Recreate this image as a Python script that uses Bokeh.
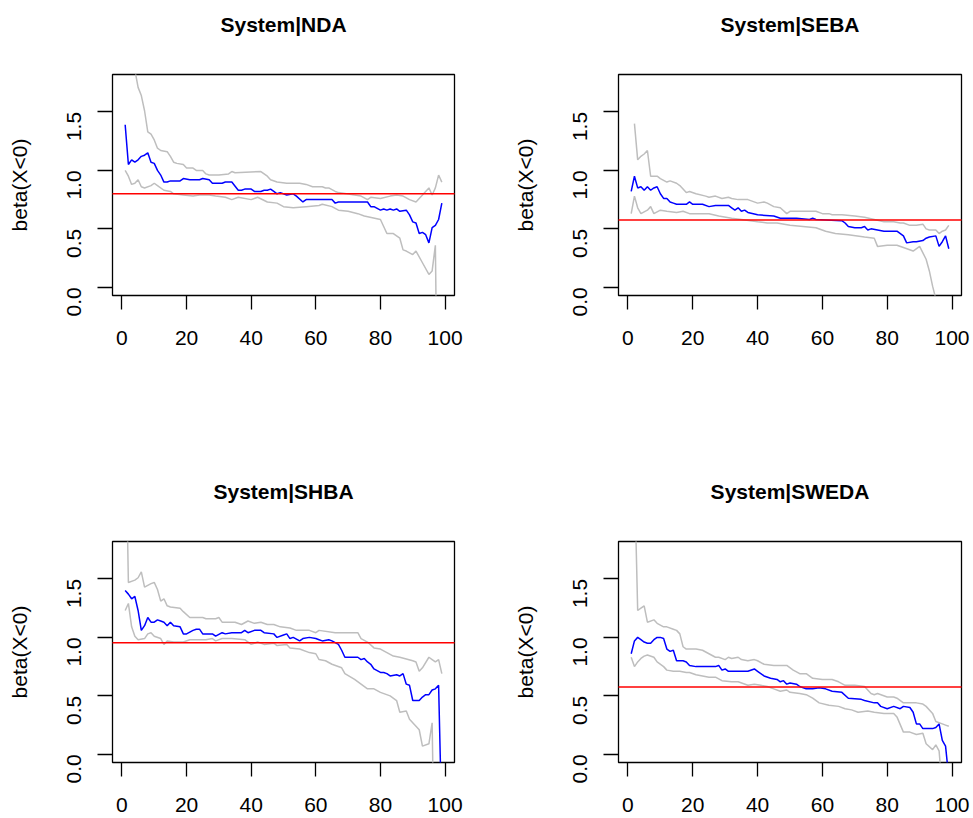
import math
from bokeh.plotting import figure
from bokeh.layouts import column, row
from bokeh.models import Range1d, FixedTicker, PrintfTickFormatter, Title
from bokeh.embed import file_html
from bokeh.resources import INLINE

titles = ["System|NDA", "System|SEBA", "System|SHBA", "System|SWEDA"]
y_label = "beta(X<0)"
x_ticks = [0, 20, 40, 60, 80, 100]
y_ticks = [0.0, 0.5, 1.0, 1.5]
ref_levels = [0.80, 0.575, 0.955, 0.575]

# ---- System|NDA ----
nda_mid_x = [1, 2, 3, 4, 5, 6, 7, 8, 9, 10, 11, 12, 13, 14, 15, 18, 19, 21, 24, 25, 27, 28, 31, 32, 34, 36, 37, 38, 40, 41, 43, 44, 45, 46, 47, 48, 49, 51, 53, 54, 56, 57, 65, 66, 67, 76, 77, 78, 80, 81, 82, 83, 84, 85, 86, 88, 89, 90, 91, 92, 93, 94, 95, 96, 97, 98, 99]
nda_mid_y = [1.39, 1.05, 1.09, 1.07, 1.09, 1.12, 1.13, 1.15, 1.07, 1.06, 1.00, 0.96, 0.90, 0.90, 0.91, 0.91, 0.93, 0.92, 0.92, 0.93, 0.92, 0.89, 0.89, 0.90, 0.90, 0.83, 0.83, 0.84, 0.84, 0.82, 0.82, 0.83, 0.83, 0.84, 0.82, 0.80, 0.81, 0.79, 0.80, 0.78, 0.73, 0.75, 0.75, 0.72, 0.73, 0.73, 0.69, 0.69, 0.66, 0.67, 0.66, 0.67, 0.66, 0.67, 0.65, 0.66, 0.62, 0.56, 0.55, 0.46, 0.47, 0.45, 0.38, 0.51, 0.53, 0.58, 0.72]
nda_up_x = [3, 4, 5, 6, 7, 8, 9, 10, 11, 12, 14, 15, 16, 17, 19, 20, 22, 23, 25, 26, 27, 30, 33, 34, 35, 43, 45, 46, 48, 51, 55, 57, 59, 62, 63, 64, 66, 67, 72, 74, 76, 77, 80, 83, 85, 87, 89, 91, 93, 95, 96, 97, 98, 99]
nda_up_y = [3.0, 1.86, 1.71, 1.64, 1.51, 1.33, 1.31, 1.26, 1.19, 1.17, 1.16, 1.12, 1.07, 1.06, 1.05, 1.02, 1.02, 1.00, 1.00, 0.97, 0.96, 0.96, 0.97, 0.99, 0.98, 0.99, 0.95, 0.92, 0.90, 0.89, 0.89, 0.88, 0.86, 0.86, 0.85, 0.85, 0.82, 0.81, 0.79, 0.78, 0.75, 0.77, 0.76, 0.78, 0.79, 0.78, 0.75, 0.73, 0.79, 0.85, 0.79, 0.85, 0.96, 0.90]
nda_lo_x = [1, 2, 3, 4, 5, 6, 7, 9, 10, 11, 13, 15, 16, 19, 22, 24, 27, 29, 32, 34, 36, 40, 42, 45, 48, 50, 53, 57, 61, 62, 65, 67, 70, 73, 75, 80, 81, 82, 84, 86, 87, 88, 90, 91, 93, 95, 96, 97, 98, 99]
nda_lo_y = [1.00, 0.95, 0.88, 0.89, 0.92, 0.86, 0.85, 0.87, 0.89, 0.87, 0.83, 0.82, 0.80, 0.79, 0.78, 0.79, 0.79, 0.78, 0.77, 0.75, 0.77, 0.75, 0.77, 0.73, 0.72, 0.69, 0.68, 0.69, 0.70, 0.71, 0.69, 0.66, 0.65, 0.63, 0.61, 0.58, 0.52, 0.46, 0.46, 0.42, 0.32, 0.31, 0.28, 0.31, 0.21, 0.11, 0.14, 0.36, -2.0, -1.5]

# ---- System|SEBA ----
seba_mid_x = [1, 2, 3, 4, 5, 6, 7, 8, 9, 10, 11, 12, 13, 14, 15, 18, 19, 20, 23, 25, 27, 31, 32, 33, 34, 35, 36, 37, 40, 45, 47, 52, 56, 57, 58, 66, 67, 68, 70, 72, 73, 74, 75, 77, 79, 83, 85, 86, 88, 89, 91, 92, 93, 95, 96, 97, 98, 99]
seba_mid_y = [0.82, 0.95, 0.85, 0.86, 0.83, 0.86, 0.83, 0.85, 0.86, 0.80, 0.76, 0.76, 0.73, 0.72, 0.71, 0.71, 0.73, 0.71, 0.71, 0.69, 0.70, 0.70, 0.68, 0.66, 0.68, 0.65, 0.66, 0.64, 0.62, 0.61, 0.59, 0.59, 0.58, 0.59, 0.58, 0.57, 0.55, 0.52, 0.51, 0.51, 0.52, 0.49, 0.50, 0.49, 0.48, 0.48, 0.44, 0.38, 0.39, 0.39, 0.40, 0.42, 0.43, 0.44, 0.35, 0.39, 0.44, 0.33]
seba_up_x = [2, 3, 4, 5, 6, 7, 9, 10, 12, 13, 15, 16, 18, 19, 21, 24, 25, 27, 29, 31, 32, 34, 37, 40, 42, 43, 45, 47, 49, 50, 54, 58, 60, 62, 63, 66, 70, 73, 76, 79, 82, 84, 85, 87, 89, 91, 92, 93, 95, 96, 97, 98, 99]
seba_up_y = [1.40, 1.09, 1.12, 1.14, 1.17, 0.95, 0.95, 0.93, 0.90, 0.91, 0.89, 0.87, 0.81, 0.82, 0.80, 0.78, 0.77, 0.78, 0.76, 0.77, 0.76, 0.75, 0.75, 0.72, 0.73, 0.72, 0.69, 0.68, 0.63, 0.65, 0.65, 0.65, 0.63, 0.63, 0.62, 0.62, 0.61, 0.60, 0.58, 0.56, 0.56, 0.55, 0.55, 0.53, 0.53, 0.54, 0.50, 0.49, 0.49, 0.46, 0.48, 0.49, 0.53]
seba_lo_x = [1, 2, 3, 4, 6, 7, 8, 10, 12, 15, 17, 19, 23, 25, 28, 32, 35, 40, 43, 46, 50, 54, 58, 61, 64, 68, 73, 76, 77, 80, 83, 85, 88, 90, 92, 93, 94, 95, 96, 97, 98, 99]
seba_lo_y = [0.63, 0.78, 0.68, 0.63, 0.66, 0.69, 0.63, 0.66, 0.65, 0.64, 0.65, 0.63, 0.63, 0.63, 0.61, 0.59, 0.58, 0.56, 0.55, 0.55, 0.53, 0.52, 0.51, 0.48, 0.46, 0.45, 0.43, 0.42, 0.35, 0.36, 0.36, 0.34, 0.31, 0.35, 0.24, 0.14, 0.01, -0.10, -0.40, -0.75, -1.10, -1.50]

# ---- System|SHBA ----
shba_mid_x = [1, 2, 3, 4, 5, 6, 7, 8, 9, 10, 11, 12, 13, 14, 15, 16, 18, 19, 20, 22, 23, 24, 25, 28, 29, 31, 32, 34, 37, 38, 39, 41, 43, 44, 47, 48, 50, 51, 52, 53, 55, 56, 58, 60, 61, 62, 64, 65, 67, 68, 69, 72, 73, 74, 75, 76, 77, 78, 80, 81, 82, 83, 85, 86, 87, 88, 89, 90, 92, 93, 94, 95, 96, 97, 98, 99]
shba_mid_y = [1.40, 1.37, 1.33, 1.35, 1.23, 1.06, 1.10, 1.17, 1.13, 1.13, 1.15, 1.14, 1.13, 1.10, 1.13, 1.10, 1.09, 1.03, 1.03, 1.06, 1.07, 1.07, 1.03, 1.03, 1.01, 1.04, 1.03, 1.04, 1.04, 1.06, 1.04, 1.06, 1.06, 1.04, 1.03, 1.00, 1.02, 1.03, 0.99, 1.00, 0.97, 0.99, 1.00, 0.99, 0.98, 0.97, 0.98, 0.97, 0.94, 0.89, 0.83, 0.83, 0.83, 0.81, 0.82, 0.79, 0.77, 0.73, 0.70, 0.70, 0.69, 0.67, 0.68, 0.67, 0.69, 0.60, 0.59, 0.46, 0.46, 0.49, 0.51, 0.51, 0.55, 0.56, 0.59, -0.60]
shba_up_x = [1, 2, 4, 5, 6, 7, 9, 10, 11, 12, 13, 14, 15, 18, 19, 21, 25, 26, 29, 30, 31, 35, 37, 39, 41, 43, 45, 47, 49, 52, 54, 58, 60, 61, 66, 70, 73, 74, 76, 78, 80, 82, 84, 86, 90, 91, 92, 93, 95, 96, 97, 98, 99]
shba_up_y = [3.0, 1.47, 1.49, 1.51, 1.56, 1.43, 1.46, 1.47, 1.41, 1.31, 1.33, 1.27, 1.26, 1.25, 1.22, 1.17, 1.17, 1.16, 1.16, 1.17, 1.13, 1.13, 1.11, 1.14, 1.12, 1.13, 1.11, 1.11, 1.09, 1.08, 1.06, 1.06, 1.04, 1.06, 1.04, 1.04, 1.04, 0.99, 0.96, 0.91, 0.90, 0.87, 0.84, 0.83, 0.80, 0.79, 0.71, 0.74, 0.83, 0.81, 0.79, 0.81, 0.69]
shba_lo_x = [1, 2, 3, 4, 5, 7, 8, 9, 10, 12, 13, 14, 16, 19, 21, 26, 28, 29, 31, 34, 38, 40, 42, 44, 47, 48, 51, 52, 55, 58, 60, 61, 63, 65, 68, 69, 72, 74, 76, 78, 80, 83, 85, 86, 88, 89, 91, 92, 93, 95, 96, 97, 98, 99]
shba_lo_y = [1.23, 1.29, 1.09, 1.01, 0.98, 0.99, 1.03, 1.04, 1.01, 0.99, 0.94, 0.97, 0.96, 0.96, 0.98, 0.98, 0.99, 0.97, 0.99, 0.99, 0.98, 0.94, 0.96, 0.94, 0.95, 0.93, 0.94, 0.91, 0.90, 0.87, 0.86, 0.81, 0.80, 0.77, 0.74, 0.69, 0.64, 0.60, 0.56, 0.56, 0.53, 0.50, 0.46, 0.36, 0.37, 0.30, 0.24, 0.21, 0.07, 0.09, 0.27, -1.5, -2.0, -1.5]

# ---- System|SWEDA ----
sweda_mid_x = [1, 2, 3, 4, 5, 6, 7, 8, 9, 10, 11, 12, 13, 14, 15, 17, 18, 19, 21, 27, 28, 29, 30, 31, 35, 37, 39, 40, 42, 44, 46, 47, 48, 49, 50, 52, 53, 55, 57, 59, 61, 63, 66, 68, 72, 73, 76, 77, 78, 80, 82, 84, 85, 87, 88, 89, 90, 91, 94, 95, 96, 97, 98, 99]
sweda_mid_y = [0.86, 0.97, 1.00, 0.98, 0.96, 0.95, 0.95, 0.98, 1.00, 1.00, 0.99, 0.90, 0.88, 0.89, 0.80, 0.80, 0.79, 0.76, 0.75, 0.75, 0.76, 0.72, 0.73, 0.71, 0.71, 0.71, 0.73, 0.71, 0.67, 0.65, 0.64, 0.62, 0.63, 0.60, 0.61, 0.60, 0.58, 0.56, 0.56, 0.57, 0.56, 0.54, 0.53, 0.48, 0.47, 0.46, 0.44, 0.44, 0.41, 0.39, 0.41, 0.39, 0.41, 0.40, 0.36, 0.26, 0.26, 0.22, 0.22, 0.23, 0.26, 0.12, 0.07, -0.20]
sweda_up_x = [1, 2, 3, 4, 5, 6, 8, 9, 11, 12, 14, 15, 16, 17, 18, 21, 23, 25, 27, 28, 30, 31, 32, 34, 35, 37, 39, 40, 42, 45, 47, 49, 51, 53, 55, 57, 60, 63, 65, 67, 70, 73, 75, 76, 77, 80, 82, 83, 85, 87, 89, 91, 92, 94, 95, 97, 98, 99]
sweda_up_y = [3.5, 2.4, 1.23, 1.25, 1.27, 1.13, 1.15, 1.12, 1.09, 1.09, 1.07, 1.06, 1.03, 0.92, 0.90, 0.90, 0.89, 0.86, 0.83, 0.83, 0.81, 0.83, 0.82, 0.83, 0.81, 0.80, 0.81, 0.80, 0.77, 0.76, 0.76, 0.76, 0.72, 0.69, 0.69, 0.65, 0.64, 0.64, 0.62, 0.59, 0.59, 0.58, 0.52, 0.51, 0.52, 0.49, 0.49, 0.48, 0.44, 0.44, 0.44, 0.43, 0.41, 0.35, 0.28, 0.26, 0.25, 0.24]
sweda_lo_x = [1, 2, 3, 4, 5, 6, 8, 9, 11, 12, 14, 16, 18, 19, 21, 23, 25, 27, 29, 32, 34, 37, 39, 41, 43, 45, 47, 49, 50, 53, 55, 57, 59, 62, 65, 67, 69, 71, 74, 76, 79, 82, 83, 85, 87, 89, 91, 92, 94, 95, 96, 97, 98, 99]
sweda_lo_y = [0.83, 0.75, 0.79, 0.82, 0.84, 0.85, 0.83, 0.79, 0.75, 0.72, 0.71, 0.71, 0.70, 0.70, 0.68, 0.67, 0.66, 0.66, 0.63, 0.62, 0.62, 0.59, 0.60, 0.59, 0.58, 0.56, 0.54, 0.55, 0.53, 0.52, 0.51, 0.48, 0.44, 0.42, 0.41, 0.39, 0.38, 0.36, 0.37, 0.36, 0.35, 0.35, 0.32, 0.19, 0.19, 0.17, 0.18, 0.09, 0.04, 0.08, 0.03, -0.30, -0.60, -0.50]

panels = [
    (nda_mid_x, nda_mid_y, nda_up_x, nda_up_y, nda_lo_x, nda_lo_y),
    (seba_mid_x, seba_mid_y, seba_up_x, seba_up_y, seba_lo_x, seba_lo_y),
    (shba_mid_x, shba_mid_y, shba_up_x, shba_up_y, shba_lo_x, shba_lo_y),
    (sweda_mid_x, sweda_mid_y, sweda_up_x, sweda_up_y, sweda_lo_x, sweda_lo_y),
]

FONT = "Liberation Sans"
# (left, right, top, bottom) borders and frame width for each panel
geom = [
    (112, 32, 74, 114, 342),
    (132, 12, 74, 114, 343),
    (112, 32, 132, 56, 342),
    (132, 12, 132, 56, 343),
]


def make_panel(i):
    mx, my, ux, uy, lx, ly = panels[i]
    bl, br, bt, bb, fw = geom[i]
    p = figure(title=None, frame_width=fw, frame_height=221,
               min_border_left=bl, min_border_right=br,
               min_border_top=bt, min_border_bottom=bb,
               x_range=Range1d(-2.92, 102.92), y_range=Range1d(-0.07, 1.82),
               output_backend="svg", toolbar_location=None, tools="")
    # empty spacer title next to the frame, then the real title above it
    p.add_layout(Title(text=" ", text_font=FONT, text_font_size="21px",
                       standoff=14), "above")
    p.add_layout(Title(text=titles[i], align="center", text_font=FONT,
                       text_font_size="21px", text_font_style="bold",
                       text_color="black", standoff=0), "above")
    p.outline_line_color = "black"
    p.outline_line_width = 1.3
    p.xgrid.visible = False
    p.ygrid.visible = False
    p.background_fill_color = "white"
    p.border_fill_color = "white"

    p.line(ux, uy, line_color="#BEBEBE", line_width=1.5)
    p.line(lx, ly, line_color="#BEBEBE", line_width=1.5)
    p.line(mx, my, line_color="#0000FF", line_width=1.5)
    p.line([-10, 110], [ref_levels[i], ref_levels[i]], line_color="#FF0000", line_width=1.5)

    xa = p.xaxis[0]
    xa.ticker = FixedTicker(ticks=x_ticks)
    xa.axis_line_color = None
    xa.major_tick_out = 14
    xa.major_tick_in = 0
    xa.major_tick_line_width = 1.3
    xa.major_tick_line_color = "black"
    xa.minor_tick_line_color = None
    xa.major_label_text_font = FONT
    xa.major_label_text_font_size = "21px"
    xa.major_label_text_color = "black"
    xa.major_label_standoff = 21

    ya = p.yaxis[0]
    ya.ticker = FixedTicker(ticks=y_ticks)
    ya.formatter = PrintfTickFormatter(format="%.1f")
    ya.axis_line_color = None
    ya.major_tick_out = 15
    ya.major_tick_in = 0
    ya.major_tick_line_width = 1.3
    ya.major_tick_line_color = "black"
    ya.minor_tick_line_color = None
    ya.major_label_text_font = FONT
    ya.major_label_text_font_size = "21px"
    ya.major_label_text_color = "black"
    ya.major_label_orientation = math.pi / 2
    ya.major_label_standoff = 23
    ya.axis_label = y_label
    ya.axis_label_text_font = FONT
    ya.axis_label_text_font_size = "21px"
    ya.axis_label_text_font_style = "normal"
    ya.axis_label_text_color = "black"
    ya.axis_label_standoff = 27
    return p


figs = [make_panel(i) for i in range(4)]
layout = column(row(figs[0], figs[1]), row(figs[2], figs[3]))
open("out.html", "w").write(file_html(layout, INLINE))
